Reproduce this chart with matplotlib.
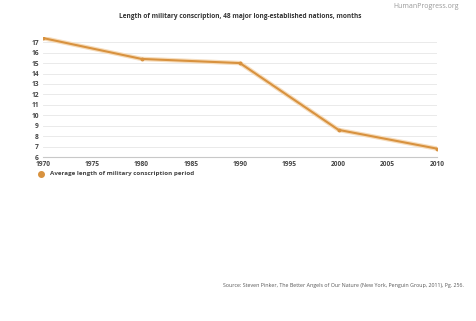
import matplotlib.pyplot as plt

years = [1970, 1980, 1990, 2000, 2010]
months = [17.4, 15.4, 15.0, 8.6, 6.8]
yticks = list(range(6, 18))
xticks = list(range(1970, 2011, 5))

plt.rcParams['font.family'] = ['Open Sans', 'DejaVu Sans']

fig = plt.figure(figsize=(4.76, 3.21), dpi=100)
ax = fig.add_axes([43 / 476, 1 - 157 / 321, (437 - 43) / 476, (157 - 37) / 321])

line_color = '#d8923f'
# soft halo under the line
ax.plot(years, months, color='#f6dcbb', lw=3.2, solid_capstyle='round', zorder=2)
ax.plot(years, months, color=line_color, lw=1.5, marker='o', ms=1.8,
        solid_joinstyle='round', zorder=3)

ax.set_xlim(1970, 2010)
ax.set_ylim(6, 17.5)
ax.set_xticks(xticks)
ax.set_yticks(yticks)
ax.grid(axis='y', color='#e6e6e6', lw=0.6)
ax.set_axisbelow(True)
for s in ['top', 'right', 'left']:
    ax.spines[s].set_visible(False)
ax.spines['bottom'].set_color('#c8c8c8')
ax.spines['bottom'].set_linewidth(0.8)
ax.tick_params(axis='both', length=0, labelsize=4.8, labelcolor='#444444', pad=3)
for lab in ax.get_xticklabels() + ax.get_yticklabels():
    lab.set_fontweight('bold')

fig.text(240 / 476, 1 - 17 / 321, 'Length of military conscription, 48 major long-established nations, months',
         ha='center', va='center', fontsize=4.7, fontweight='bold', color='#333333')
fig.text(459 / 476, 1 - 7 / 321, 'HumanProgress.org', ha='right', va='center',
         fontsize=5.0, color='#999999')

# legend
fig.lines.append(plt.Line2D([41 / 476], [1 - 174 / 321], marker='o', ms=4,
                            color=line_color, transform=fig.transFigure))
fig.text(50 / 476, 1 - 174 / 321, 'Average length of military conscription period',
         ha='left', va='center', fontsize=4.5, fontweight='bold', color='#444444')

fig.text(464 / 476, 1 - 285 / 321,
         'Source: Steven Pinker, The Better Angels of Our Nature (New York, Penguin Group, 2011), Pg. 256.',
         ha='right', va='center', fontsize=3.8, color='#555555')

fig.savefig('out.png', dpi=100)
